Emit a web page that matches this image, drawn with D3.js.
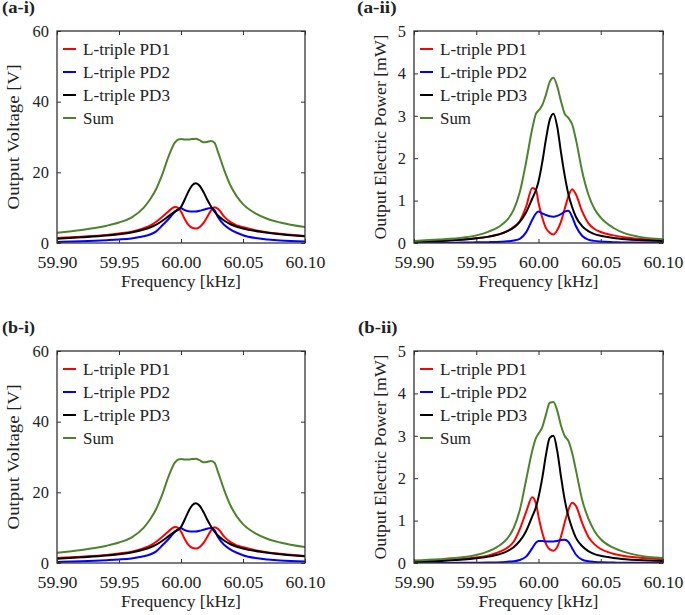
<!DOCTYPE html>
<html>
<head>
<meta charset="utf-8">
<script src="https://cdn.jsdelivr.net/npm/d3@7"></script>
<style>
  body { margin: 0; background: #fff; }
  svg text { font-family: "Liberation Serif", "Times New Roman", serif; fill: #222; }
</style>
</head>
<body>
<script>
// frequency samples [kHz], shared by every curve
var freq = [59.90, 59.92, 59.94, 59.95, 59.96, 59.97, 59.975, 59.98, 59.985, 59.99, 59.995, 59.998,
  60.000, 60.003, 60.006, 60.009, 60.012, 60.015, 60.018, 60.021, 60.024, 60.027, 60.030,
  60.035, 60.04, 60.045, 60.05, 60.06, 60.07, 60.08, 60.10];

var seriesNames = ["L-triple PD1", "L-triple PD2", "L-triple PD3", "Sum"];

// output voltage [V]  (a-i and b-i look the same)
var voltPD1 = [1.4, 1.8, 2.3, 2.7, 3.2, 4.2, 4.9, 6.0, 7.4, 9.0, 10.2, 9.9,
  8.9, 6.8, 5.1, 4.3, 4.1, 4.5, 5.6, 7.3, 9.1, 10.1, 9.6,
  7.4, 5.9, 5.0, 4.5, 3.6, 3.0, 2.6, 2.0];
var voltPD2 = [0.3, 0.5, 0.8, 1.0, 1.3, 1.9, 2.4, 3.3, 5.0, 6.8, 8.8, 9.6,
  9.8, 9.3, 9.0, 8.9, 8.9, 9.1, 9.4, 9.7, 9.9, 9.3, 7.2,
  5.1, 3.8, 2.9, 2.2, 1.4, 1.0, 0.7, 0.4];
var voltPD3 = [1.2, 1.6, 2.1, 2.5, 3.0, 3.8, 4.4, 5.2, 6.3, 7.6, 8.9, 9.5,
  10.2, 12.3, 14.6, 16.3, 16.9, 16.2, 14.5, 12.4, 10.5, 8.9, 7.7,
  6.3, 5.3, 4.6, 4.1, 3.4, 2.9, 2.5, 1.9];
var voltSum = [2.9, 3.7, 4.9, 5.8, 7.2, 10.0, 12.3, 15.3, 19.5, 24.5, 28.4, 29.3,
  29.4, 29.3, 29.3, 29.4, 29.5, 29.1, 28.5, 28.6, 28.9, 28.4, 25.6,
  20.5, 16.2, 13.2, 11.0, 8.4, 6.8, 5.8, 4.5];

// output electric power [mW], case (a)
var powA_PD1 = [0.03, 0.05, 0.08, 0.11, 0.15, 0.22, 0.28, 0.38, 0.52, 0.85, 1.3, 1.25,
  0.95, 0.6, 0.35, 0.24, 0.2, 0.3, 0.5, 0.8, 1.1, 1.27, 1.15,
  0.75, 0.47, 0.33, 0.26, 0.18, 0.13, 0.1, 0.07];
var powA_PD2 = [0, 0.005, 0.01, 0.015, 0.02, 0.03, 0.04, 0.06, 0.1, 0.25, 0.55, 0.7,
  0.74, 0.7, 0.66, 0.63, 0.62, 0.64, 0.68, 0.74, 0.76, 0.62, 0.4,
  0.17, 0.08, 0.05, 0.035, 0.02, 0.01, 0.01, 0.005];
var powA_PD3 = [0.03, 0.05, 0.08, 0.11, 0.15, 0.22, 0.28, 0.36, 0.5, 0.72, 1.05, 1.25,
  1.45, 1.9, 2.45, 2.9, 3.05, 2.75, 2.15, 1.6, 1.15, 0.85, 0.62,
  0.4, 0.28, 0.21, 0.17, 0.12, 0.09, 0.07, 0.05];
var powA_Sum = [0.05, 0.08, 0.13, 0.18, 0.27, 0.42, 0.55, 0.78, 1.2, 1.9, 2.7, 3.05,
  3.12, 3.25, 3.5, 3.8, 3.9, 3.7, 3.35, 3.05, 2.95, 2.8, 2.45,
  1.7, 1.15, 0.8, 0.6, 0.36, 0.22, 0.15, 0.09];

// output electric power [mW], case (b)
var powB_PD1 = [0.04, 0.06, 0.1, 0.13, 0.18, 0.28, 0.36, 0.5, 0.8, 1.2, 1.55, 1.4,
  1.1, 0.72, 0.45, 0.32, 0.29, 0.38, 0.62, 0.95, 1.25, 1.42, 1.35,
  0.95, 0.62, 0.44, 0.33, 0.22, 0.16, 0.13, 0.09];
var powB_PD2 = [0, 0, 0.005, 0.008, 0.012, 0.02, 0.03, 0.04, 0.07, 0.15, 0.35, 0.48,
  0.52, 0.52, 0.51, 0.51, 0.51, 0.52, 0.54, 0.55, 0.5, 0.35, 0.2,
  0.08, 0.04, 0.025, 0.015, 0.01, 0.005, 0.005, 0];
var powB_PD3 = [0.03, 0.05, 0.08, 0.11, 0.15, 0.22, 0.28, 0.37, 0.52, 0.75, 1.1, 1.32,
  1.55, 2.0, 2.55, 2.95, 3.0, 2.65, 2.05, 1.5, 1.1, 0.82, 0.6,
  0.4, 0.28, 0.21, 0.17, 0.12, 0.09, 0.07, 0.05];
var powB_Sum = [0.06, 0.09, 0.14, 0.19, 0.28, 0.44, 0.58, 0.82, 1.25, 1.95, 2.65, 2.95,
  3.05, 3.2, 3.5, 3.78, 3.8, 3.6, 3.25, 3.0, 2.88, 2.6, 2.2,
  1.5, 1.05, 0.75, 0.56, 0.36, 0.25, 0.18, 0.12];

var xTicks = [59.90, 59.95, 60.00, 60.05, 60.10];
var voltTicks = [0, 20, 40, 60];
var powTicks = [0, 1, 2, 3, 4, 5];

var colors = ["#ff0000", "#0000ff", "#000000", "#4e832e"];
var fs = "16.5px";

var width = 685, height = 615;
var svg = d3.select("body").append("svg")
    .attr("width", width)
    .attr("height", height);

// the figure's lettering is stretched sideways, so fix the widths
function fit(sel, len) {
  sel.attr("textLength", len).attr("lengthAdjust", "spacingAndGlyphs");
}

var panels = [
  {label: "(a-i)", lx: 2, ly: 13, left: 57, top: 31, right: 305, bottom: 243,
   ytitle: "Output Voltage [V]", tlen: 145, tx: 13, ymax: 60, yticks: voltTicks,
   data: [voltPD1, voltPD2, voltPD3, voltSum]},
  {label: "(a-ii)", lx: 357, ly: 13, left: 414, top: 31, right: 663, bottom: 243,
   ytitle: "Output Electric Power [mW]", tlen: 205, tx: 380, ymax: 5, yticks: powTicks,
   data: [powA_PD1, powA_PD2, powA_PD3, powA_Sum]},
  {label: "(b-i)", lx: 2, ly: 333, left: 57, top: 351, right: 305, bottom: 563,
   ytitle: "Output Voltage [V]", tlen: 145, tx: 13, ymax: 60, yticks: voltTicks,
   data: [voltPD1, voltPD2, voltPD3, voltSum]},
  {label: "(b-ii)", lx: 358, ly: 333, left: 414, top: 351, right: 663, bottom: 563,
   ytitle: "Output Electric Power [mW]", tlen: 205, tx: 380, ymax: 5, yticks: powTicks,
   data: [powB_PD1, powB_PD2, powB_PD3, powB_Sum]}
];

panels.forEach(function(p, i) {
  var w = p.right - p.left, h = p.bottom - p.top;
  var x = d3.scaleLinear().domain([59.90, 60.10]).range([0, w]);
  var y = d3.scaleLinear().domain([0, p.ymax]).range([h, 0]);

  svg.append("text")
      .attr("x", p.lx).attr("y", p.ly)
      .style("font-size", "16px").style("font-weight", "bold")
      .text(p.label)
      .call(fit, p.label.length * 6.6);

  var g = svg.append("g")
      .attr("transform", "translate(" + p.left + "," + p.top + ")");

  g.append("clipPath").attr("id", "clip" + i)
    .append("rect").attr("width", w).attr("height", h);

  // curves
  var line = d3.line()
      .x(function(d) { return x(d[0]); })
      .y(function(d) { return y(d[1]); })
      .curve(d3.curveMonotoneX);

  p.data.forEach(function(vals, k) {
    g.append("path")
        .datum(freq.map(function(f, j) { return [f, vals[j]]; }))
        .attr("clip-path", "url(#clip" + i + ")")
        .attr("d", line)
        .attr("fill", "none")
        .attr("stroke", colors[k])
        .attr("stroke-width", 2);
  });

  // axes, ticks inward on all four sides
  var bottomAx = g.append("g").attr("transform", "translate(0," + h + ")")
      .call(d3.axisBottom(x).tickValues(xTicks).tickFormat(d3.format(".2f"))
        .tickSizeInner(-4).tickSizeOuter(0).tickPadding(13));
  g.append("g")
      .call(d3.axisTop(x).tickValues(xTicks).tickFormat("").tickSizeInner(-4).tickSizeOuter(0));
  var leftAx = g.append("g")
      .call(d3.axisLeft(y).tickValues(p.yticks).tickFormat(d3.format("d"))
        .tickSizeInner(-4).tickSizeOuter(0).tickPadding(8));
  g.append("g").attr("transform", "translate(" + w + ",0)")
      .call(d3.axisRight(y).tickValues(p.yticks).tickFormat("").tickSizeInner(-4).tickSizeOuter(0));

  g.selectAll(".domain").remove();
  g.selectAll(".tick line").attr("stroke", "#333").attr("stroke-width", 1);
  bottomAx.selectAll("text").style("font-size", fs).attr("fill", "#222").call(fit, 40);
  leftAx.selectAll("text").style("font-size", fs).attr("fill", "#222")
      .each(function() { fit(d3.select(this), this.textContent.length * 8.2); });

  g.append("rect")
      .attr("width", w).attr("height", h)
      .attr("fill", "none").attr("stroke", "#333").attr("stroke-width", 1.3);

  // axis titles
  svg.append("text")
      .attr("x", p.left + w / 2).attr("y", p.bottom + 44)
      .attr("text-anchor", "middle")
      .style("font-size", fs)
      .text("Frequency [kHz]")
      .call(fit, 120);
  svg.append("text")
      .attr("transform", "translate(" + p.tx + "," + (p.top + h / 2) + ") rotate(-90)")
      .attr("text-anchor", "middle")
      .attr("dy", "0.35em")
      .style("font-size", fs)
      .text(p.ytitle)
      .call(fit, p.tlen);

  // legend
  var lg = g.append("g").attr("transform", "translate(6,18)");
  seriesNames.forEach(function(name, k) {
    lg.append("line")
        .attr("x1", 0).attr("x2", 13)
        .attr("y1", k * 23).attr("y2", k * 23)
        .attr("stroke", colors[k]).attr("stroke-width", 2);
    lg.append("text")
        .attr("x", 20).attr("y", k * 23)
        .attr("dy", "0.35em")
        .style("font-size", fs)
        .text(name)
        .call(fit, name === "Sum" ? 31 : 87);
  });
});
</script>
</body>
</html>
